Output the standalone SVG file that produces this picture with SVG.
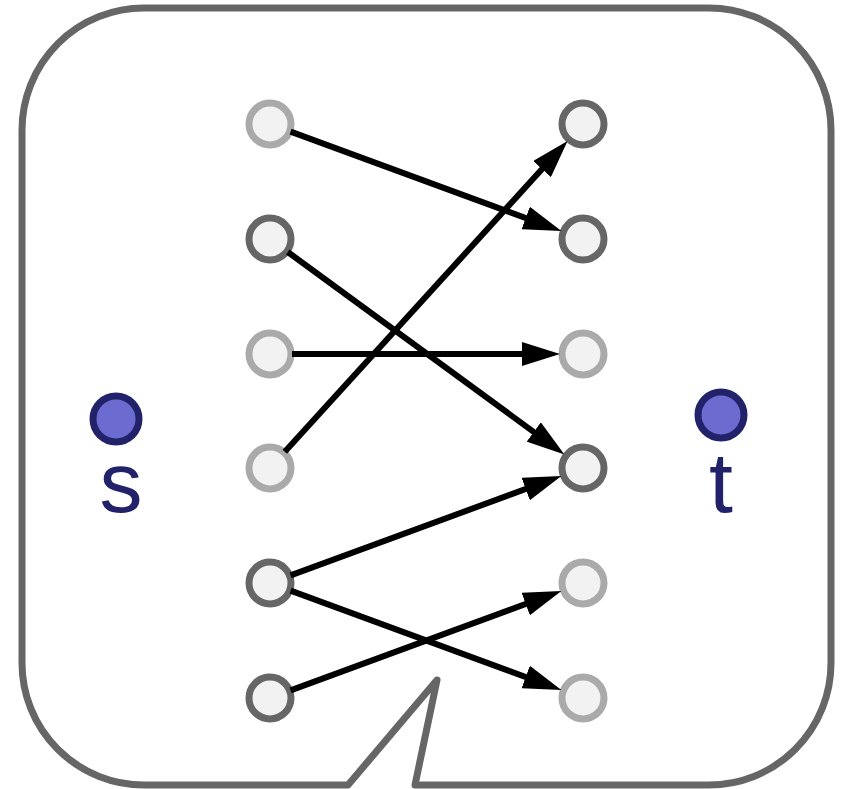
<svg xmlns="http://www.w3.org/2000/svg" width="841" height="789" viewBox="0 0 841 789">
  <style>
    .frame { fill: #ffffff; stroke: #666666; stroke-width: 7; stroke-linejoin: round; }
    .node { fill: #f2f2f2; stroke-width: 7; }
    .dark { stroke: #666666; }
    .light { stroke: #aaaaaa; }
    .term { fill: #6b6bd0; stroke: #22226a; stroke-width: 7; }
    .label { font-family: "Liberation Sans", Arial, sans-serif; font-size: 86px; fill: #22226a; text-anchor: middle; }
    .edge { stroke: #000000; stroke-width: 6; fill: none; marker-end: url(#arrow); }
  </style>
  <defs>
    <marker id="arrow" viewBox="0 0 38 24" refX="18" refY="12" markerWidth="38" markerHeight="24" markerUnits="userSpaceOnUse" orient="auto">
      <path d="M0,0 L38,12 L0,24 Z" fill="#000000"/>
    </marker>
  </defs>

  <!-- speech-bubble frame with tail -->
  <path id="frame" class="frame" d="M144,8 H709 A122,122 0 0 1 831,130 V663 A122,122 0 0 1 709,785 H415 L437,680 L348,785 H144 A122,122 0 0 1 22,663 V130 A122,122 0 0 1 144,8 Z"/>

  <!-- source and sink -->
  <g id="s">
    <circle class="term" cx="116" cy="419" r="23"/>
    <text class="label" x="121" y="512">s</text>
  </g>
  <g id="t">
    <circle class="term" cx="721" cy="415" r="23"/>
    <text class="label" x="721" y="512">t</text>
  </g>

  <!-- left column -->
  <g id="l1"><circle class="node light" cx="270" cy="124" r="21"/></g>
  <g id="l2"><circle class="node dark" cx="270" cy="239" r="21"/></g>
  <g id="l3"><circle class="node light" cx="270" cy="354" r="21"/></g>
  <g id="l4"><circle class="node light" cx="270" cy="468" r="21"/></g>
  <g id="l5"><circle class="node dark" cx="270" cy="583" r="21"/></g>
  <g id="l6"><circle class="node dark" cx="270" cy="698" r="21"/></g>

  <!-- right column -->
  <g id="r1"><circle class="node dark" cx="583" cy="124" r="21"/></g>
  <g id="r2"><circle class="node dark" cx="583" cy="239" r="21"/></g>
  <g id="r3"><circle class="node light" cx="583" cy="354" r="21"/></g>
  <g id="r4"><circle class="node dark" cx="583" cy="468" r="21"/></g>
  <g id="r5"><circle class="node light" cx="583" cy="583" r="21"/></g>
  <g id="r6"><circle class="node light" cx="583" cy="698" r="21"/></g>

  <!-- matching edges -->
  <g id="edges">
    <line class="edge" x1="290.6" y1="131.6" x2="542.6" y2="224.2"/>
    <line class="edge" x1="287.8" y1="252.0" x2="548.3" y2="442.6"/>
    <line class="edge" x1="292" y1="354" x2="540" y2="354"/>
    <line class="edge" x1="284.8" y1="451.7" x2="554.1" y2="155.8"/>
    <line class="edge" x1="290.6" y1="575.4" x2="542.6" y2="482.8"/>
    <line class="edge" x1="290.6" y1="590.6" x2="542.6" y2="683.2"/>
    <line class="edge" x1="290.6" y1="690.4" x2="542.6" y2="597.8"/>
  </g>
</svg>
